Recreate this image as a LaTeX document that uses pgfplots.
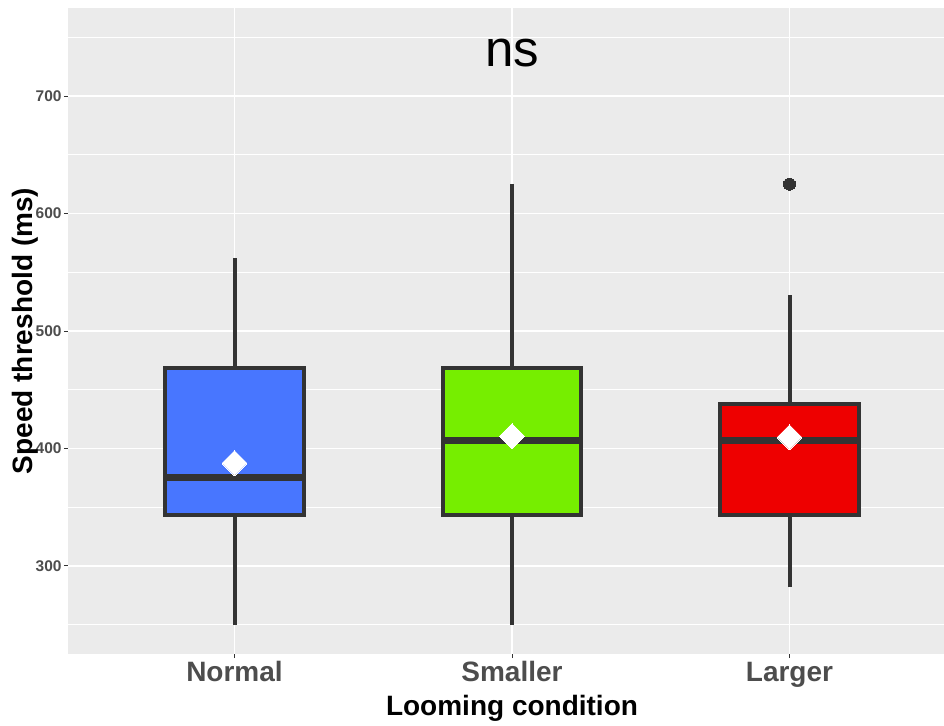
\documentclass[border=0pt]{standalone}
\usepackage{pgfplots}
\pgfplotsset{compat=1.18}
\usepackage{fontspec}
\setmainfont{Liberation Sans}
\definecolor{bg}{HTML}{EBEBEB}
\definecolor{dk}{HTML}{333333}
\definecolor{tl}{HTML}{4D4D4D}
\definecolor{cblue}{HTML}{4876FF}
\definecolor{cgreen}{HTML}{76EE00}
\definecolor{cred}{HTML}{EE0000}
\begin{document}
\begin{tikzpicture}
\useasboundingbox (-34pt,-35.5pt) rectangle (438pt,327pt);
\begin{axis}[
  scale only axis, width=444pt, height=323pt,
  xmin=0.4, xmax=3.6, ymin=225, ymax=775,
  axis background/.style={fill=bg},
  axis line style={draw=none},
  xtick={1,2,3}, xticklabels={Normal,Smaller,Larger},
  ytick={300,400,500,600,700},
  minor ytick={250,350,450,550,650,750},
  grid=both,
  major grid style={white, line width=0.8pt},
  minor grid style={white, line width=0.4pt},
  tick align=outside, major tick length=2pt,
  major tick style={color=dk, line width=0.5pt},
  minor tick style={draw=none},
  tick pos=left,
  /pgf/number format/assume math mode=true,
  yticklabel style={font=\bfseries\fontsize{7.75}{8}\selectfont, text=tl, inner sep=0pt, anchor=east, xshift=-1pt},
  xticklabel style={font=\bfseries\fontsize{14}{14}\selectfont, text=tl, inner sep=0pt, anchor=base, yshift=-11.5pt},
]
% whiskers
\addplot[dk, line width=2pt] coordinates {(1,250) (1,343.5)};
\addplot[dk, line width=2pt] coordinates {(1,468.5) (1,562)};
\addplot[dk, line width=2pt] coordinates {(2,250) (2,343.5)};
\addplot[dk, line width=2pt] coordinates {(2,468.5) (2,625)};
\addplot[dk, line width=2pt] coordinates {(3,282) (3,343.5)};
\addplot[dk, line width=2pt] coordinates {(3,438) (3,531)};
% boxes (Q1 to Q3)
\addplot[draw=dk, fill=cblue, line width=2pt, line join=miter] coordinates {(0.75,343.5) (1.25,343.5) (1.25,468.5) (0.75,468.5)} -- cycle;
\addplot[draw=dk, fill=cgreen, line width=2pt, line join=miter] coordinates {(1.75,343.5) (2.25,343.5) (2.25,468.5) (1.75,468.5)} -- cycle;
\addplot[draw=dk, fill=cred, line width=2pt, line join=miter] coordinates {(2.75,343.5) (3.25,343.5) (3.25,438) (2.75,438)} -- cycle;
% medians
\addplot[dk, line width=3.5pt] coordinates {(0.75,375) (1.25,375)};
\addplot[dk, line width=3.5pt] coordinates {(1.75,407) (2.25,407)};
\addplot[dk, line width=3.5pt] coordinates {(2.75,406.5) (3.25,406.5)};
% outlier
\addplot[dk, only marks, mark=*, mark size=3pt, mark options={fill=dk, draw=dk, line width=0pt}] coordinates {(3,625)};
% means
\addplot[white, only marks, mark=square*, mark size=4.4pt, mark options={rotate=45, fill=white, draw=white, line width=0pt}]
  coordinates {(1,387.5) (2,410.5) (3,409.5)};
\node[anchor=base, font=\fontsize{25.5}{26}\selectfont] at (axis cs:2,725) {ns};
\end{axis}
\node[rotate=90, anchor=base, font=\bfseries\fontsize{14}{14}\selectfont] at (-17.5pt,161.5pt) {Speed threshold (ms)};
\node[anchor=base, font=\bfseries\fontsize{14}{14}\selectfont] at (222pt,-30.5pt) {Looming condition};
\end{tikzpicture}
\end{document}
